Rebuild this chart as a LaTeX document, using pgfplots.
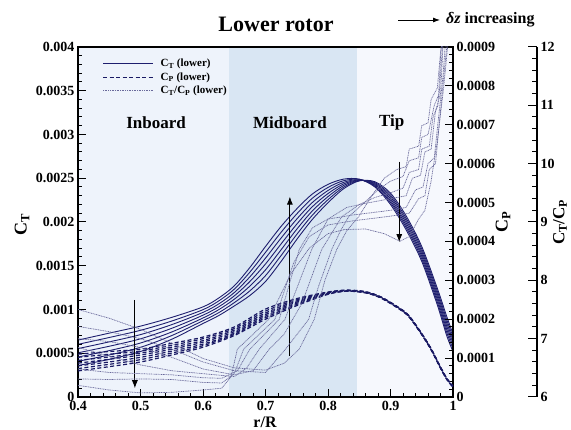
\documentclass[border=0pt]{standalone}
\usepackage{fontspec}
\setmainfont{Liberation Serif}
\usepackage{pgfplots}
\pgfplotsset{compat=1.18}
\usepackage{pgfplotstable}
\usetikzlibrary{arrows.meta}

\definecolor{inb}{RGB}{238,243,251}
\definecolor{midc}{RGB}{217,230,243}
\definecolor{tipc}{RGB}{246,248,253}
\definecolor{ctc}{RGB}{30,30,110}
\definecolor{cpc}{RGB}{25,25,100}
\definecolor{rc}{RGB}{105,105,155}

% C_T (lower), seven delta-z cases
\pgfplotstableread{
x a b c d e f g
0.40 0.00036 0.000408 0.000457 0.000505 0.000553 0.000602 0.00065
0.45 0.00043 0.00048 0.00053 0.00058 0.00063 0.00068 0.00073
0.50 0.00052 0.000568 0.000617 0.000665 0.000713 0.000762 0.00081
0.55 0.00066 0.000702 0.000743 0.000785 0.000827 0.000868 0.00091
0.60 0.00084 0.000872 0.000903 0.000935 0.000967 0.000998 0.00103
0.625 0.00093 0.000963 0.000997 0.00103 0.001063 0.001097 0.00113
0.65 0.00104 0.001078 0.001117 0.001155 0.001193 0.001232 0.00127
0.675 0.00116 0.001213 0.001267 0.00132 0.001373 0.001427 0.00148
0.70 0.00132 0.001387 0.001453 0.00152 0.001587 0.001653 0.00172
0.725 0.00155 0.001617 0.001683 0.00175 0.001817 0.001883 0.00195
0.75 0.0018 0.001858 0.001917 0.001975 0.002033 0.002092 0.00215
0.775 0.00203 0.002078 0.002127 0.002175 0.002223 0.002272 0.00232
0.80 0.00222 0.002255 0.00229 0.002325 0.00236 0.002395 0.00243
0.825 0.00238 0.002398 0.002417 0.002435 0.002453 0.002472 0.00249
0.85 0.00247 0.002473 0.002477 0.00248 0.002483 0.002487 0.00249
0.875 0.00246 0.00245 0.00244 0.00243 0.00242 0.00241 0.0024
0.90 0.00233 0.002308 0.002287 0.002265 0.002243 0.002222 0.0022
0.925 0.00207 0.002043 0.002017 0.00199 0.001963 0.001937 0.00191
0.95 0.00172 0.001692 0.001663 0.001635 0.001607 0.001578 0.00155
0.975 0.00124 0.001208 0.001177 0.001145 0.001113 0.001082 0.00105
0.99 0.00092 0.000883 0.000847 0.00081 0.000773 0.000737 0.0007
1.00 0.00072 0.000687 0.000653 0.00062 0.000587 0.000553 0.00052
}\ctdata

% C_P (lower)
\pgfplotstableread{
x a b c d e f g
0.40 0.000067 0.000073 0.000080 0.000087 0.000094 0.000102 0.000110
0.45 0.000078 0.000084 0.000090 0.000097 0.000103 0.000110 0.000117
0.50 0.000090 0.000096 0.000102 0.000108 0.000113 0.000118 0.000123
0.55 0.000108 0.000113 0.000118 0.000123 0.000128 0.000133 0.000138
0.60 0.000128 0.000132 0.000136 0.000141 0.000145 0.000150 0.000154
0.65 0.000158 0.000161 0.000164 0.000168 0.000172 0.000176 0.000180
0.70 0.000200 0.000204 0.000208 0.000212 0.000216 0.000221 0.000226
0.75 0.000235 0.000238 0.000241 0.000244 0.000247 0.000250 0.000253
0.80 0.000264 0.000265 0.000266 0.000267 0.000268 0.000269 0.000270
0.83 0.000272 0.000272 0.000273 0.000273 0.000274 0.000274 0.000275
0.86 0.000268 0.000268 0.000269 0.000269 0.000270 0.000270 0.000271
0.885 0.000254 0.000255 0.000255 0.000256 0.000256 0.000257 0.000257
0.915 0.000225 0.000226 0.000226 0.000227 0.000227 0.000228 0.000228
0.93 0.000205 0.000206 0.000206 0.000207 0.000207 0.000208 0.000208
0.95 0.000160 0.000161 0.000161 0.000162 0.000162 0.000163 0.000163
0.965 0.000121 0.000122 0.000122 0.000123 0.000123 0.000124 0.000124
0.98 0.000074 0.000075 0.000075 0.000076 0.000076 0.000077 0.000077
0.99 0.000045 0.000046 0.000046 0.000047 0.000047 0.000048 0.000048
1.00 0.000025 0.000026 0.000026 0.000027 0.000027 0.000028 0.000028
}\cpdata

\begin{document}
\begin{tikzpicture}[font=\bfseries]
\useasboundingbox (0pt,0pt) rectangle (571pt,430pt);

% ---------- main axis: C_T ----------
\begin{axis}[
  at={(78pt,33pt)}, anchor=south west,
  width=375pt, height=350pt, scale only axis,
  xmin=0.4, xmax=1, ymin=0, ymax=0.004,
  axis on top,
  axis line style={line width=1.4pt},
  xtick={0.4,0.5,0.6,0.7,0.8,0.9,1},
  ytick={0,0.0005,0.001,0.0015,0.002,0.0025,0.003,0.0035,0.004},
  minor x tick num=4, minor y tick num=4,
  xtick pos=left, ytick pos=left,
  tick align=inside,
  major tick length=8pt, minor tick length=4pt,
  every tick/.style={black, line width=1pt},
  scaled ticks=false,
  /pgf/number format/assume math mode=true,
  tick label style={font=\fontsize{14}{16}\selectfont\bfseries},
  xticklabel style={/pgf/number format/fixed, /pgf/number format/precision=1, yshift=-1pt},
  yticklabel style={/pgf/number format/fixed, /pgf/number format/precision=4},
  legend style={at={(rel axis cs:0.062,0.975)}, anchor=north west, draw=none, fill=none,
     font=\fontsize{11}{12}\selectfont\bfseries, row sep=0.5pt, column sep=5pt, inner sep=1pt},
  legend cell align=left,
  legend image code/.code={\draw[#1] (0pt,0pt) -- (50pt,0pt);},
]
\addlegendimage{ctc, line width=0.9pt}
\addlegendentry{C\textsubscript{T} (lower)}
\addlegendimage{cpc, line width=1.2pt, dash pattern=on 4pt off 2.5pt}
\addlegendentry{C\textsubscript{P} (lower)}
\addlegendimage{rc, line width=0.7pt, dash pattern=on 1pt off 0.7pt}
\addlegendentry{C\textsubscript{T}/C\textsubscript{P} (lower)}

\fill[inb] (axis cs:0.4,0) rectangle (axis cs:0.642,0.004);
\fill[midc] (axis cs:0.642,0) rectangle (axis cs:0.846,0.004);
\fill[tipc] (axis cs:0.846,0) rectangle (axis cs:1,0.004);

\foreach \c in {a,b,c,d,e,f,g}{
  \addplot[ctc, line width=0.9pt, smooth, forget plot] table[x=x, y=\c] {\ctdata};
}

\node[font=\fontsize{17}{19}\selectfont\bfseries] at (axis cs:0.525,0.00314) {Inboard};
\node[font=\fontsize{17}{19}\selectfont\bfseries] at (axis cs:0.739,0.00314) {Midboard};
\node[font=\fontsize{17}{19}\selectfont\bfseries] at (axis cs:0.902,0.00314) {Tip};

\draw[-{Latex[length=8pt,width=6pt]}, line width=0.8pt] (axis cs:0.491,0.00111) -- (axis cs:0.491,0.0001);
\draw[-{Latex[length=8pt,width=6pt]}, line width=0.8pt] (axis cs:0.739,0.00047) -- (axis cs:0.739,0.00229);
\draw[-{Latex[length=8pt,width=6pt]}, line width=0.8pt] (axis cs:0.914,0.00269) -- (axis cs:0.914,0.00177);
\end{axis}

% ---------- C_P axis (right) ----------
\begin{axis}[
  at={(78pt,33pt)}, anchor=south west,
  width=375pt, height=350pt, scale only axis,
  xmin=0.4, xmax=1, ymin=0, ymax=0.0009,
  axis y line*=right, axis x line=none,
  axis line style={line width=1.4pt},
  ytick={0,0.0001,0.0002,0.0003,0.0004,0.0005,0.0006,0.0007,0.0008,0.0009},
  minor y tick num=4,
  tick align=inside,
  major tick length=8pt, minor tick length=4pt,
  every tick/.style={black, line width=1pt},
  scaled ticks=false,
  /pgf/number format/assume math mode=true,
  tick label style={font=\fontsize{14}{16}\selectfont\bfseries},
  yticklabel style={/pgf/number format/fixed, /pgf/number format/precision=4},
]
\foreach \c in {a,b,c,d,e,f,g}{
  \addplot[cpc, line width=1.2pt, dash pattern=on 4pt off 2.5pt, smooth] table[x=x, y=\c] {\cpdata};
}
\end{axis}

% ---------- C_T/C_P axis (far right) ----------
\begin{axis}[
  at={(78pt,33pt)}, anchor=south west,
  width=459pt, height=350pt, scale only axis,
  xmin=0.4, xmax=1.1344, ymin=6, ymax=12,
  axis y line*=right, axis x line=none,
  axis line style={line width=1.3pt},
  ytick={6,7,8,9,10,11,12},
  minor y tick num=4,
  tick align=inside,
  major tick length=9pt, minor tick length=5pt,
  every tick/.style={black, line width=1pt},
  /pgf/number format/assume math mode=true,
  tick label style={font=\fontsize{14}{16}\selectfont\bfseries},
]
\addplot[rc, line width=0.7pt, dash pattern=on 1pt off 0.7pt] coordinates {
(0.40,7.50)(0.45,7.35)(0.50,7.16)(0.55,6.92)(0.60,6.66)(0.65,6.50)(0.70,6.46)(0.73,6.58)(0.754,6.82)(0.778,7.33)(0.795,8.00)(0.814,8.53)(0.83,8.85)(0.849,9.09)(0.87,9.45)(0.89,9.75)(0.91,9.90)(0.925,9.95)(0.93,10.25)(0.945,10.30)(0.95,10.65)(0.96,10.70)(0.965,11.10)(0.975,11.30)(0.98,11.90)(0.99,12.6)};
\addplot[rc, line width=0.7pt, dash pattern=on 1pt off 0.7pt] coordinates {
(0.40,7.21)(0.45,7.12)(0.50,7.00)(0.55,6.82)(0.60,6.60)(0.65,6.45)(0.70,6.42)(0.732,6.82)(0.769,7.33)(0.785,7.90)(0.806,8.53)(0.82,8.85)(0.833,9.09)(0.86,9.35)(0.88,9.55)(0.90,9.70)(0.92,9.78)(0.93,10.05)(0.945,10.10)(0.95,10.45)(0.96,10.50)(0.97,11.00)(0.978,11.20)(0.985,12.3)};
\addplot[rc, line width=0.7pt, dash pattern=on 1pt off 0.7pt] coordinates {
(0.40,7.00)(0.45,6.95)(0.50,6.85)(0.55,6.68)(0.60,6.48)(0.65,6.38)(0.68,6.45)(0.706,6.82)(0.73,7.08)(0.758,7.60)(0.79,8.53)(0.822,9.09)(0.85,9.30)(0.875,9.42)(0.90,9.50)(0.92,9.58)(0.93,9.85)(0.945,9.90)(0.95,10.25)(0.962,10.30)(0.968,10.8)(0.976,11.0)(0.982,12.2)};
\addplot[rc, line width=0.7pt, dash pattern=on 1pt off 0.7pt] coordinates {
(0.40,6.85)(0.45,6.70)(0.50,6.55)(0.55,6.45)(0.60,6.40)(0.65,6.35)(0.67,6.50)(0.69,6.82)(0.731,7.33)(0.774,8.53)(0.80,9.05)(0.83,9.25)(0.86,9.32)(0.90,9.40)(0.925,9.45)(0.935,9.75)(0.948,9.80)(0.955,10.2)(0.965,10.25)(0.972,10.9)(0.98,11.2)(0.986,12.4)};
\addplot[rc, line width=0.7pt, dash pattern=on 1pt off 0.7pt] coordinates {
(0.40,6.48)(0.45,6.42)(0.50,6.40)(0.55,6.38)(0.60,6.33)(0.63,6.32)(0.655,6.45)(0.675,6.82)(0.722,7.33)(0.754,8.53)(0.775,8.90)(0.80,9.05)(0.84,9.12)(0.90,9.20)(0.925,9.25)(0.94,9.55)(0.952,9.60)(0.96,10.0)(0.97,10.1)(0.977,10.8)(0.984,11.5)(0.99,12.4)};
\addplot[rc, line width=0.7pt, dash pattern=on 1pt off 0.7pt] coordinates {
(0.40,6.31)(0.45,6.30)(0.50,6.31)(0.55,6.30)(0.60,6.25)(0.63,6.24)(0.65,6.40)(0.665,6.82)(0.715,7.33)(0.745,8.30)(0.77,8.75)(0.80,8.95)(0.84,9.02)(0.90,9.10)(0.93,9.15)(0.945,9.40)(0.955,9.45)(0.962,9.90)(0.972,10.0)(0.98,10.9)(0.988,11.8)(0.995,12.5)};
\addplot[rc, line width=0.7pt, dash pattern=on 1pt off 0.7pt] coordinates {
(0.40,6.20)(0.45,6.12)(0.50,6.07)(0.55,6.08)(0.60,6.12)(0.63,6.15)(0.645,6.35)(0.655,6.82)(0.705,7.33)(0.74,8.10)(0.77,8.55)(0.80,8.80)(0.826,8.87)(0.86,8.88)(0.89,8.80)(0.915,8.67)(0.93,8.75)(0.945,9.05)(0.955,9.20)(0.965,9.70)(0.975,10.4)(0.985,11.3)(0.995,12.4)};
\end{axis}

% ---------- titles and axis labels ----------
\node[font=\fontsize{22}{24}\selectfont\bfseries] at (276pt,406pt) {Lower rotor};
\draw[-{Latex[length=7pt,width=5pt]}, line width=0.8pt] (398pt,410pt) -- (440pt,410pt);
\node[anchor=west, font=\fontsize{16}{18}\selectfont\bfseries, inner sep=0pt] at (446pt,410pt) {{\itshape δz} increasing};
\node[font=\fontsize{16}{18}\selectfont\bfseries] at (265pt,8pt) {r/R};
\node[rotate=90, font=\fontsize{18}{20}\selectfont\bfseries] at (22pt,205pt) {C\textsubscript{T}};
\node[rotate=90, font=\fontsize{18}{20}\selectfont\bfseries] at (503pt,208pt) {C\textsubscript{P}};
\node[rotate=90, font=\fontsize{17}{19}\selectfont\bfseries] at (560pt,208pt) {C\textsubscript{T}/C\textsubscript{P}};
\end{tikzpicture}
\end{document}
